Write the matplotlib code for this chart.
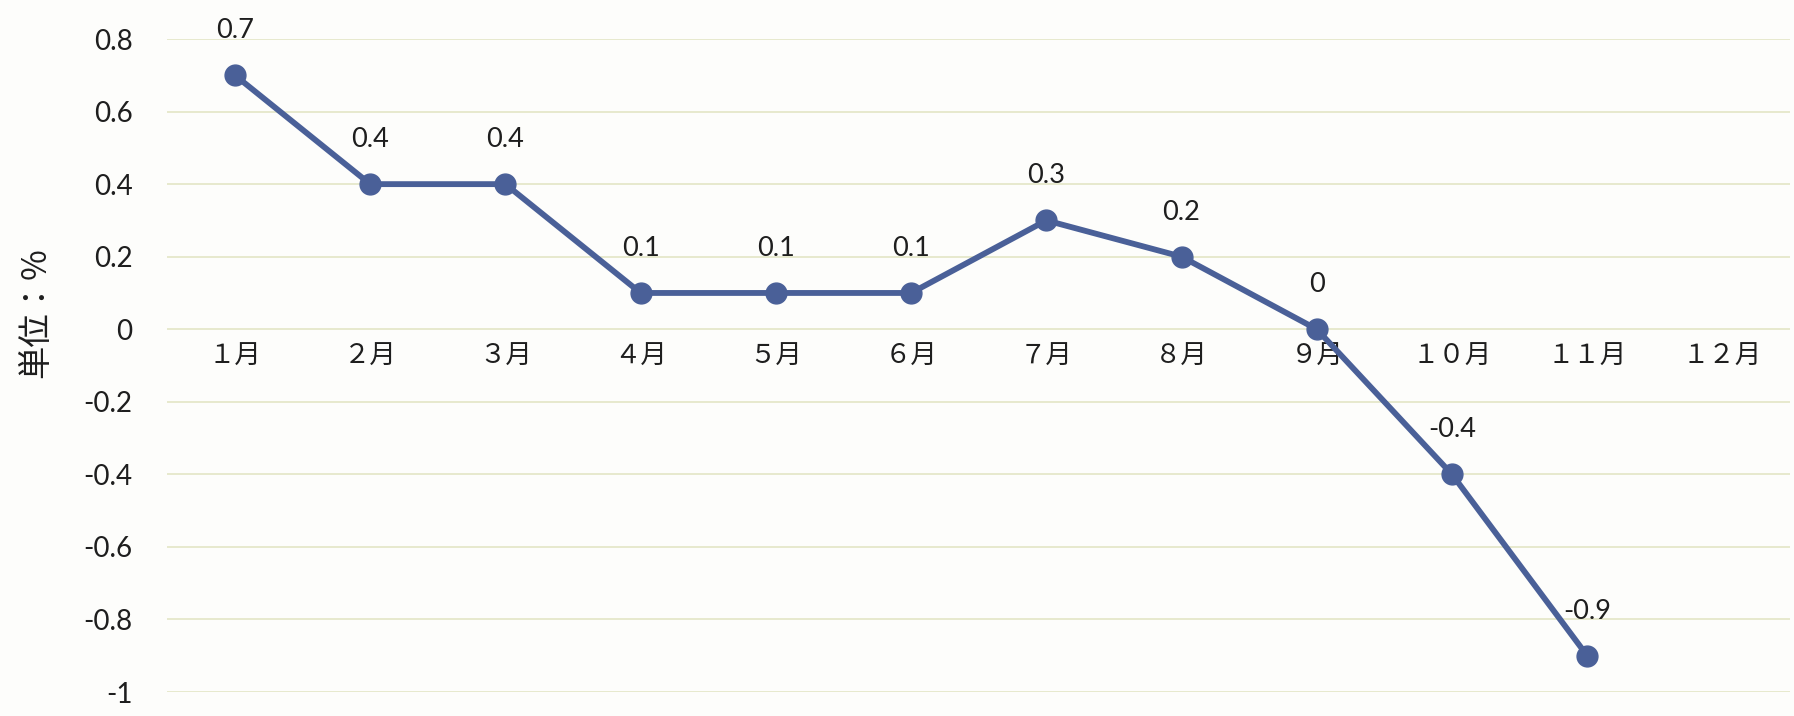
import matplotlib
matplotlib.use("Agg")
import matplotlib.pyplot as plt
from matplotlib.ticker import FixedLocator

months = ["１月", "２月", "３月", "４月", "５月", "６月", "７月", "８月", "９月", "１０月", "１１月", "１２月"]
values = [0.7, 0.4, 0.4, 0.1, 0.1, 0.1, 0.3, 0.2, 0.0, -0.4, -0.9]
value_labels = ["0.7", "0.4", "0.4", "0.1", "0.1", "0.1", "0.3", "0.2", "0", "-0.4", "-0.9"]
yticks = [0.8, 0.6, 0.4, 0.2, 0, -0.2, -0.4, -0.6, -0.8, -1]
ytick_labels = ["0.8", "0.6", "0.4", "0.2", "0", "-0.2", "-0.4", "-0.6", "-0.8", "-1"]
ylabel = "単位：%"

line_color = "#4a6098"
text_color = "#1e1e1e"
grid_color = "#e3e5c6"
num_font = ["Lato", "DejaVu Sans"]
cjk_font = ["Noto Sans CJK JP", "DejaVu Sans"]

fig = plt.figure(figsize=(17.94, 7.16), dpi=100)
fig.patch.set_facecolor("#fdfdfb")
ax = fig.add_axes([0.0933, 0.0335, 0.9045, 0.912])
ax.set_facecolor("#fdfdfb")

# place the category axis on the zero line (before labels are styled)
ax.spines["bottom"].set_position(("data", 0))
for s in ax.spines.values():
    s.set_visible(False)

x = list(range(len(values)))
ax.plot(x, values, color=line_color, lw=4.2, marker="o", markersize=15,
        markerfacecolor=line_color, markeredgecolor=line_color, zorder=3)

for xi, v, lab in zip(x, values, value_labels):
    ax.annotate(lab, (xi, v), xytext=(0, 32), textcoords="offset points",
                ha="center", va="center", fontsize=19.5, color=text_color,
                family=num_font)

ax.set_xlim(-0.5, len(months) - 0.5)
ax.set_ylim(-1, 0.8)

ax.yaxis.set_major_locator(FixedLocator(yticks))
ax.set_yticklabels(ytick_labels, fontsize=20, color=text_color, family=num_font)
ax.yaxis.grid(True, color=grid_color, lw=1.2)
ax.set_axisbelow(True)

ax.set_xticks(range(len(months)))
ax.set_xticklabels(months, fontsize=19, color=text_color, family=cjk_font)

ax.tick_params(axis="both", length=0)
ax.tick_params(axis="y", pad=25)
ax.tick_params(axis="x", pad=10)

fig.text(0.020, 0.563, ylabel, rotation=90, ha="center", va="center",
         fontsize=24, color=text_color, family=cjk_font)

fig.savefig("out.png", dpi=100, facecolor=fig.get_facecolor())
